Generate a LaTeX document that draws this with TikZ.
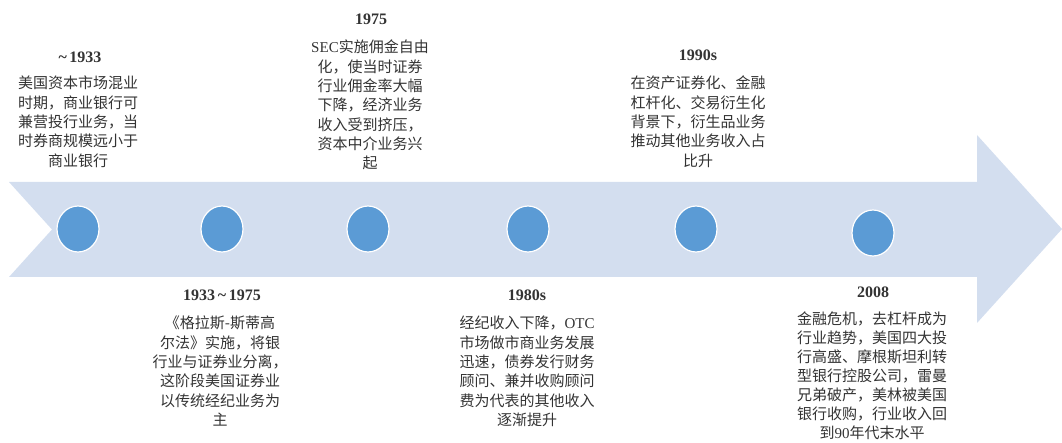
\documentclass[tikz,border=0pt]{standalone}
\usepackage{fontspec}
\setmainfont{Liberation Serif}
\newfontfamily\cjk{Noto Sans CJK SC}
\usetikzlibrary{shapes.geometric}
\definecolor{band}{HTML}{D3DEEF}
\definecolor{dot}{HTML}{5B9BD5}
\definecolor{txt}{HTML}{333333}
\newcommand{\lat}[1]{{\rmfamily #1}}
\tikzset{
 dotnode/.style={ellipse, minimum width=42pt, minimum height=46pt, inner sep=0pt, fill=dot, draw=white, line width=1.2pt},
 yearlbl/.style={font=\fontsize{16}{19}\selectfont\bfseries, text=txt, inner sep=0pt},
 bodytext/.style={font=\cjk\fontsize{15}{19.3}\selectfont, text=txt, align=center, anchor=north, inner sep=0pt},
}
\begin{document}
\begin{tikzpicture}[x=1pt,y=-1pt]
\useasboundingbox (0,0) rectangle (1062,443);
\fill[band] (9,182) -- (977,182) -- (977,135) -- (1062,229) -- (977,323) -- (977,277) -- (9,277) -- (52,229.5) -- cycle;

\node[dotnode] (c1) at (78,229) {};
\node[dotnode] (c2) at (222,229) {};
\node[dotnode] (c3) at (368,229) {};
\node[dotnode] (c4) at (528,229) {};
\node[dotnode] (c5) at (696,229) {};
\node[dotnode] (c6) at (873,233) {};

% top labels
\node[yearlbl] (y1) at (80,57) {\char`\~\,1933};
\node[bodytext] (b1) at (78,76) {美国资本市场混业\\时期，商业银行可\\兼营投行业务，当\\时券商规模远小于\\商业银行};

\node[yearlbl] (y2) at (371,19) {1975};
\node[bodytext] (b2) at (370,40) {\lat{SEC}实施佣金自由\\化，使当时证券\\行业佣金率大幅\\下降，经济业务\\收入受到挤压，\\资本中介业务兴\\起};

\node[yearlbl] (y3) at (698,55) {1990s};
\node[bodytext] (b3) at (698,76) {在资产证券化、金融\\杠杆化、交易衍生化\\背景下，衍生品业务\\推动其他业务收入占\\比升};

% bottom labels
\node[yearlbl] (y4) at (222,295) {1933\,\char`\~\,1975};
\node[bodytext] (b4) at (220,316) {《格拉斯-斯蒂高\\尔法》实施，将银\\行业与证券业分离，\\这阶段美国证券业\\以传统经纪业务为\\主};

\node[yearlbl] (y5) at (527,295) {1980s};
\node[bodytext] (b5) at (527,316) {经纪收入下降，\lat{OTC}\\市场做市商业务发展\\迅速，债券发行财务\\顾问、兼并收购顾问\\费为代表的其他收入\\逐渐提升};

\node[yearlbl] (y6) at (873,292) {2008};
\node[bodytext, font=\cjk\fontsize{15}{19}\selectfont] (b6) at (872,312) {金融危机，去杠杆成为\\行业趋势，美国四大投\\行高盛、摩根斯坦利转\\型银行控股公司，雷曼\\兄弟破产，美林被美国\\银行收购，行业收入回\\到\lat{90}年代末水平};
\end{tikzpicture}
\end{document}
